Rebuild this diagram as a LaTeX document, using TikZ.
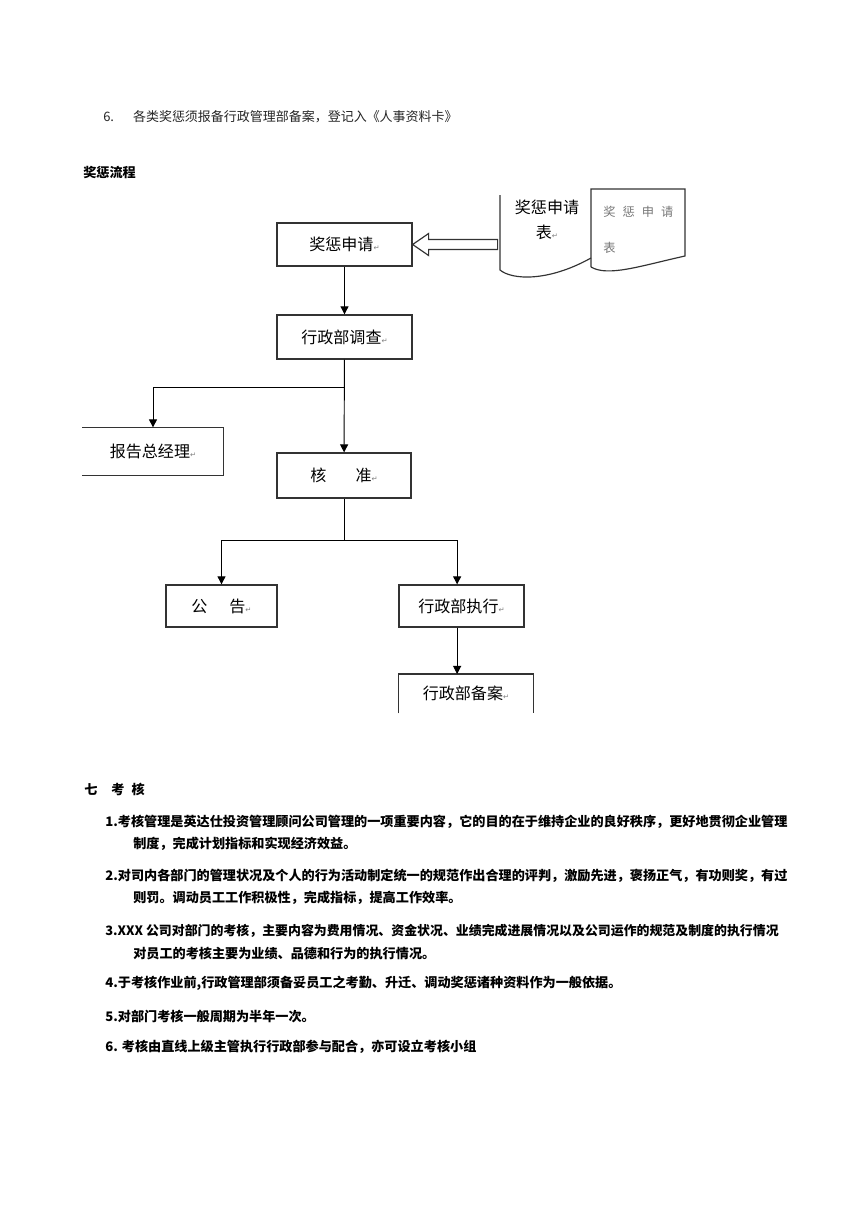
\documentclass[tikz,border=0pt]{standalone}
\usepackage{fontspec}
\usetikzlibrary{arrows.meta}
\newfontfamily\cjk{Noto Sans CJK SC}
\newfontfamily\symb{DejaVu Sans}
\newcommand{\retmark}{{\symb\fontsize{5}{5}\selectfont\color{gray}↵}}
\definecolor{linegray}{HTML}{333333}
\definecolor{docgray}{HTML}{777777}
\tikzset{
  box/.style={draw=linegray, line width=0.9pt, inner sep=0pt, font=\cjk\fontsize{11}{13}\selectfont},
  arr/.style={line width=0.65pt, -{Triangle[length=5.5pt,width=5.5pt]}},
  doc/.style={draw=linegray, line width=0.8pt},
  txt/.style={anchor=west, inner sep=0pt, font=\cjk\bfseries\fontsize{9}{11}\selectfont},
}
\begin{document}
\begin{tikzpicture}[x=0.6855pt,y=-0.6855pt]
  \fill[white] (0,0) rectangle (868,1228);
  \useasboundingbox (0,0) rectangle (868,1228);
  % top line and title
  \node[anchor=west, inner sep=0pt, font=\cjk\fontsize{8.9}{11}\selectfont, text=black!85] (tiao6) at (103,117) {6.\hspace{13pt}各类奖惩须报备行政管理部备案，登记入《人事资料卡》};
  \node[txt] (liucheng) at (83,172) {奖惩流程};
  % flow boxes
  \node[box, minimum width=92.5pt, minimum height=29.5pt] (shenqing) at (344.5,244.5) {奖惩申请\retmark};
  \node[box, minimum width=92.5pt, minimum height=30.2pt] (diaocha) at (344.5,337) {行政部调查\retmark};
  \node[box, draw=none, minimum width=96pt, minimum height=32.2pt] (zongjingli) at (153,451.5) {报告总经理\retmark};
  \draw[linegray, line width=0.9pt] (zongjingli.north west) -- (zongjingli.north east) -- (zongjingli.south east) -- (zongjingli.south west);
  \node[box, minimum width=91.9pt, minimum height=30.8pt] (hezhun) at (344,475.5) {核\hspace{20pt}准\retmark};
  \node[box, minimum width=76.1pt, minimum height=28.8pt] (gonggao) at (221.5,606) {公\hspace{15pt}告\retmark};
  \node[box, minimum width=85.7pt, minimum height=28.8pt] (zhixing) at (461.5,606) {行政部执行\retmark};
  \node[box, draw=none, minimum width=91.9pt, minimum height=26pt, anchor=north] (beian) at (466,674) {行政部备案\retmark};
  \draw[linegray, line width=0.9pt] (beian.south west) -- (beian.north west) -- (beian.north east) -- (beian.south east);
  % application forms
  \draw[doc] (500,195) -- (500,270) .. controls (512,280) and (548,282) .. (591,258);
  \draw[doc] (591,267) -- (591,189) -- (685,189) -- (685,256) .. controls (640,266) and (608,277) .. (591,267);
  \node[inner sep=0pt, align=center, font=\cjk\fontsize{11}{17}\selectfont] (biao1) at (547,220) {奖惩申请\\表\retmark};
  \node[anchor=west, inner sep=0pt, font=\cjk\fontsize{8.4}{10}\selectfont, text=docgray] (biao2a) at (603,212) {奖\hspace{4.8pt}惩\hspace{4.8pt}申\hspace{4.8pt}请};
  \node[anchor=west, inner sep=0pt, font=\cjk\fontsize{8.4}{10}\selectfont, text=docgray] (biao2b) at (603,248) {表};
  \draw[linegray, line width=0.8pt] (shenqing.east) -- ++(16,-11) -- ++(0,6) -- ++(69,0) -- ++(0,10) -- ++(-69,0) -- ++(0,6) -- cycle;
  % connectors
  \coordinate (fenzhi1) at (344.5,387);
  \coordinate (fenzhi2) at (344,540);
  \draw[arr] (shenqing) -- (diaocha);
  \draw[arr] (diaocha) -- (hezhun);
  \draw[arr] (fenzhi1) -| (zongjingli);
  \draw[line width=0.65pt] (hezhun) -- (fenzhi2);
  \draw[arr] (fenzhi2) -| (gonggao);
  \draw[arr] (fenzhi2) -| ([xshift=-3pt]zhixing.north);
  \draw[arr] ([xshift=-3pt]zhixing.south) -- ([xshift=-3pt]zhixing.south |- beian.north);
  % section text
  \node[txt] (qi) at (84,789) {七\hspace{9.6pt}考\hspace{4.8pt}核};
  \node[txt] (kh1) at (105,822) {1.考核管理是英达仕投资管理顾问公司管理的一项重要内容，它的目的在于维持企业的良好秩序，更好地贯彻企业管理};
  \node[txt] (kh1b) at (133,844) {制度，完成计划指标和实现经济效益。};
  \node[txt] (kh2) at (105,876) {2.对司内各部门的管理状况及个人的行为活动制定统一的规范作出合理的评判，激励先进，褒扬正气，有功则奖，有过};
  \node[txt] (kh2b) at (133,898) {则罚。调动员工工作积极性，完成指标，提高工作效率。};
  \node[txt, font=\cjk\bfseries\fontsize{8.85}{11}\selectfont] (kh3) at (105,931) {3.XXX 公司对部门的考核，主要内容为费用情况、资金状况、业绩完成进展情况以及公司运作的规范及制度的执行情况};
  \node[txt] (kh3b) at (133,953) {对员工的考核主要为业绩、品德和行为的执行情况。};
  \node[txt] (kh4) at (105,983) {4.于考核作业前,行政管理部须备妥员工之考勤、升迁、调动奖惩诸种资料作为一般依据。};
  \node[txt] (kh5) at (105,1016) {5.对部门考核一般周期为半年一次。};
  \node[txt] (kh6) at (105,1047) {6. 考核由直线上级主管执行行政部参与配合，亦可设立考核小组};
\end{tikzpicture}
\end{document}
